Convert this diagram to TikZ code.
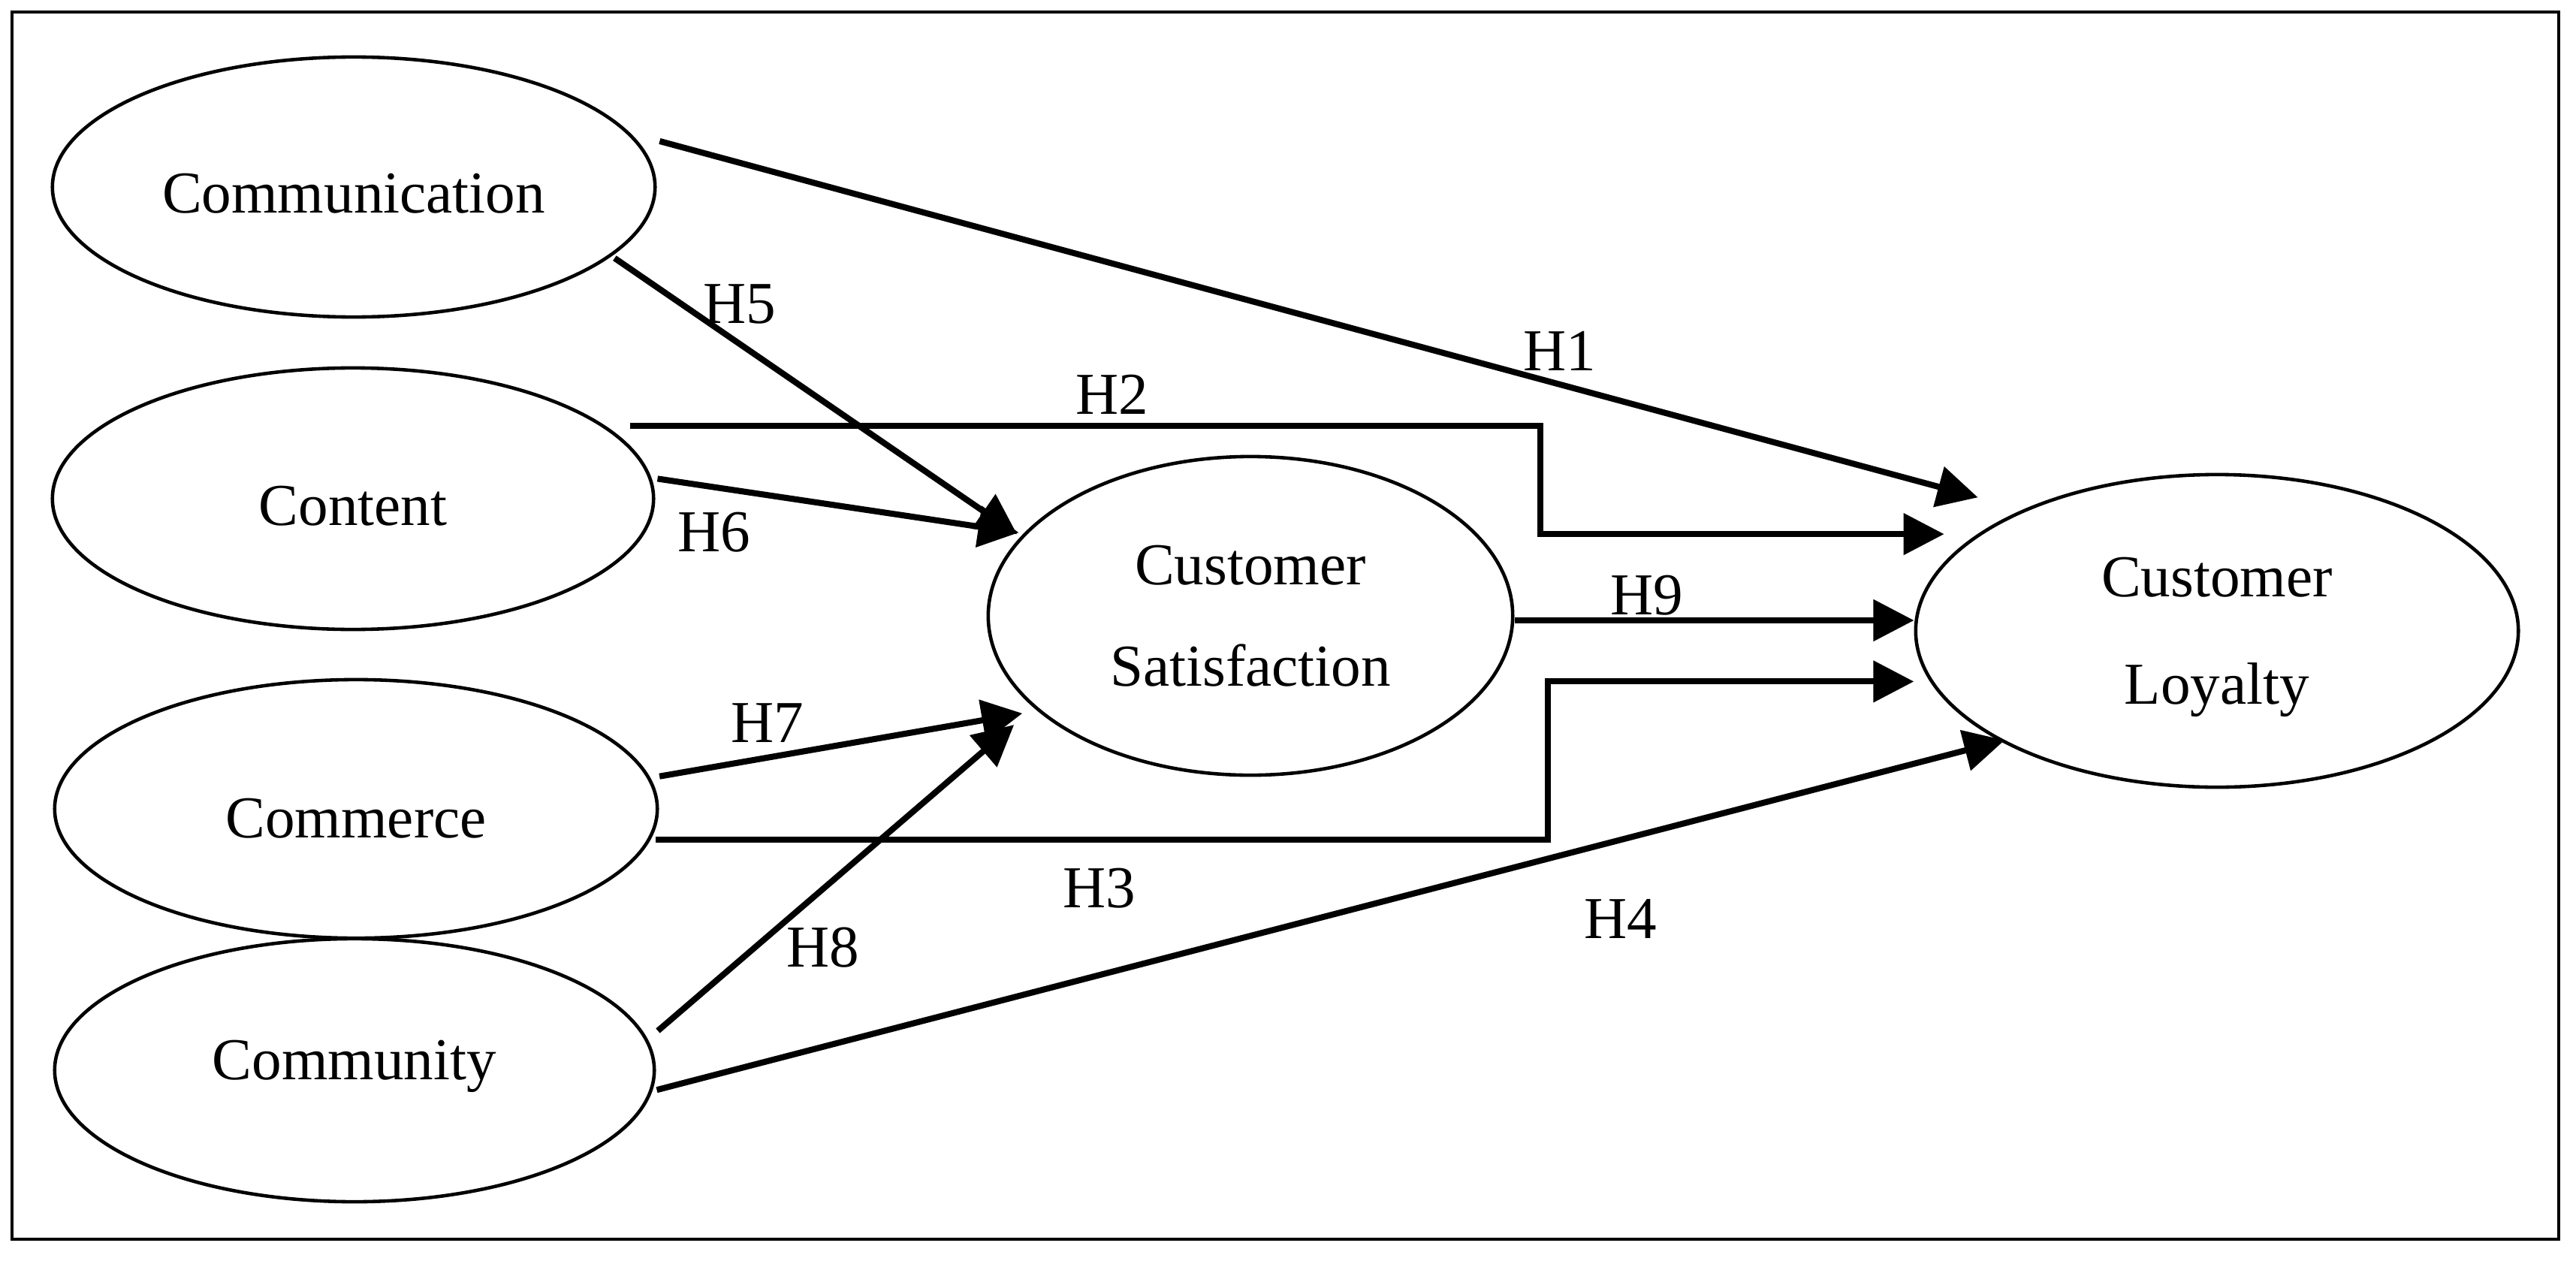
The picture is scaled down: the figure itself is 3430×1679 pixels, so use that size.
\documentclass[tikz,border=0pt]{standalone}
\usepackage{fontspec}
\setmainfont{Liberation Serif}
\usetikzlibrary{arrows.meta,shapes.geometric}
\begin{document}
\begin{tikzpicture}[x=0.01cm,y=-0.01cm,
  ell/.style={draw, ellipse, line width=1.3pt, inner sep=0pt, font=\fontsize{22.5}{27}\selectfont},
  conn/.style={line width=2.3pt, -{Triangle[length=0.54cm,width=0.54cm]}},
  lbl/.style={font=\fontsize{22.5}{27}\selectfont, inner sep=0pt}]
\useasboundingbox (0,0) rectangle (3430,1679);
\draw[line width=1.1pt] (16,16) rectangle (3407,1650);
% nodes
\node[ell, minimum width=8.02cm, minimum height=3.46cm, text height=19.4pt, text depth=0pt] (comm) at (471,249) {Communication};
\node[ell, minimum width=8.00cm, minimum height=3.48cm, text height=20pt, text depth=0pt] (cont) at (470,664) {Content};
\node[ell, minimum width=8.02cm, minimum height=3.44cm, text height=21.7pt, text depth=0pt] (cmrc) at (474,1077) {Commerce};
\node[ell, minimum width=7.98cm, minimum height=3.50cm, text height=15pt, text depth=8.1pt] (cmty) at (472,1425) {Community};
\node[ell, minimum width=6.98cm, minimum height=4.24cm, align=center, font=\fontsize{22.5}{38.4}\selectfont] (sat) at (1665,820) {Customer\\Satisfaction};
\node[ell, minimum width=8.02cm, minimum height=4.16cm, align=center, font=\fontsize{22.5}{40.7}\selectfont, text depth=0pt] (loy) at (2952,840) {Customer\\Loyalty};
% connectors
\draw[conn, shorten <=0.404cm, shorten >=0.62cm] (comm.11.28) -- (loy.148.51);
\draw[conn, shorten <=0.047cm, shorten >=0.057cm] (comm.-15.23) -- (sat.161.17);
\draw[conn, shorten <=0.081cm, shorten >=0.0675cm] (cont.4.70) -- (sat.160.70);
\draw[conn, shorten <=0.122cm, shorten >=0.201cm] (cmrc.6.65) -- (sat.204.94);
\draw[conn, shorten <=0.176cm, shorten >=0.347cm] (cmty.6.13) -- (sat.203.57);
\draw[conn, shorten <=0.0615cm, shorten >=-0.0597cm] (cmty.-4.745) -- (loy.207.87);
\draw[conn] ([yshift=-0.06cm]sat.east) -- ([yshift=-0.06cm]sat.east -| loy.west);
\draw[conn, shorten <=0.324cm, shorten >=0.444cm] (cont.16.05) -- ++(1244.4,0) |- (loy.158.21);
\draw[conn, shorten <=0.07cm, shorten >=0.214cm] (cmrc.-6.164) -- ++(1195.1,0) |- (loy.190.01);
% labels
\node[lbl] (h1) at (2077,467) {H1};
\node[lbl] (h2) at (1481,525) {H2};
\node[lbl] (h3) at (1464,1183) {H3};
\node[lbl] (h4) at (2158,1223) {H4};
\node[lbl] (h5) at (985,405) {H5};
\node[lbl] (h6) at (951,709) {H6};
\node[lbl] (h7) at (1022,963) {H7};
\node[lbl] (h8) at (1096,1262) {H8};
\node[lbl] (h9) at (2193,793) {H9};
\end{tikzpicture}
\end{document}
